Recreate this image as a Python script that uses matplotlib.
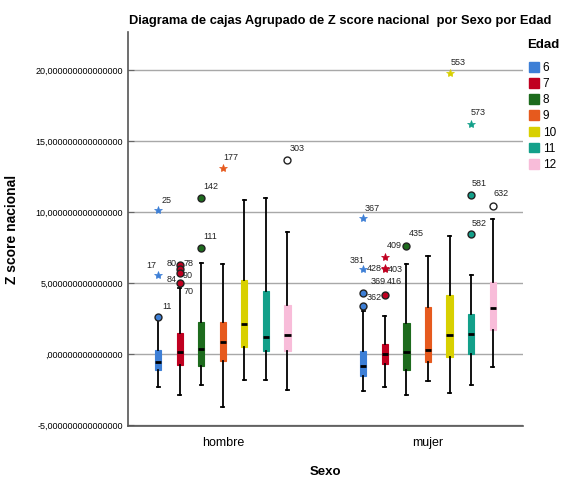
import matplotlib
matplotlib.use("Agg")
import matplotlib.pyplot as plt
from matplotlib.patches import Patch
from matplotlib.ticker import FuncFormatter

plt.rcParams['font.family'] = ['Liberation Sans', 'DejaVu Sans']

# datos
sexos = ['hombre', 'mujer']
edades = ['6', '7', '8', '9', '10', '11', '12']
colores = ['#3d7fd6', '#c00020', '#1d6b1d', '#e65a1e', '#d8d000', '#13a08a', '#f8bcd9']

# hombre
h_whislo = [-2.3, -2.9, -2.19, -3.77, -1.84, -1.84, -2.54]
h_q1 = [-1.13, -0.78, -0.85, -0.47, 0.52, 0.21, 0.21]
h_med = [-0.54, 0.12, 0.35, 0.82, 2.12, 1.18, 1.34]
h_q3 = [0.28, 1.46, 2.28, 2.28, 5.23, 4.47, 3.46]
h_whishi = [2.4, 4.64, 6.4, 6.33, 10.83, 10.97, 8.57]

# mujer
m_whislo = [-2.61, -2.35, -2.9, -1.91, -2.78, -2.19, -0.9]
m_q1 = [-1.53, -0.71, -1.13, -0.59, -0.24, 0.0, 1.69]
m_med = [-0.82, 0.0, 0.12, 0.28, 1.34, 1.39, 3.27]
m_q3 = [0.24, 0.71, 2.16, 3.29, 4.17, 2.82, 5.06]
m_whishi = [3.04, 2.71, 6.33, 6.92, 8.29, 5.58, 9.53]

# atipicos hombre: indice de edad, valor, tipo ('o' atipico, '*' extremo), caso
h_out_edad = [0, 0, 0, 1, 1, 1, 1, 2, 2, 3, 6]
h_out_val = [2.63, 5.58, 10.17, 6.28, 5.98, 5.7, 5.04, 7.46, 11.0, 13.1, 13.65]
h_out_tipo = ['o', '*', '*', 'o', 'o', 'o', 'o', 'o', 'o', '*', 'o']
h_out_caso = [['11'], ['17'], ['25'], ['80'], ['78'], ['84', '90'], ['70'], ['111'], ['142'], ['177'], ['303']]

# atipicos mujer
m_out_edad = [0, 0, 0, 0, 1, 1, 1, 1, 2, 4, 5, 5, 5, 6]
m_out_val = [9.58, 5.98, 4.28, 3.39, 6.87, 6.05, 5.98, 4.17, 7.63, 19.82, 16.22, 11.23, 8.43, 10.47]
m_out_tipo = ['*', '*', 'o', 'o', '*', '*', '*', 'o', 'o', '*', '*', 'o', 'o', 'o']
m_out_caso = [['367'], ['381', '428'], ['362'], [], [], [], ['403'], ['369', '416'], ['409', '435'],
              ['553'], ['573'], ['581'], ['582'], ['632']]

# desplazamiento de etiquetas (puntos)
etiq_off = {'11': (2.9, 7.2), '17': (-8.6, 6.5), '25': (2.2, 6.5), '80': (-9.4, 1.4), '78': (2.9, 4.3),
            '84': (-9.4, -4.3), '90': (2.2, -2.0), '70': (2.9, -6.7), '111': (1.4, 8.6), '142': (1.4, 8.6),
            '177': (0.7, 8.0), '303': (1.4, 8.6), '367': (0.7, 7.2), '381': (-10.0, 6.5), '428': (2.2, 0.7),
            '362': (2.2, -2.9), '369': (-10.0, 9.4), '416': (1.4, 9.4), '403': (2.2, 0.0),
            '409': (-14.4, 0.0), '435': (1.4, 8.6), '553': (0.7, 7.2), '573': (0.0, 8.0), '581': (0.7, 8.0),
            '582': (0.7, 8.0), '632': (0.7, 8.6)}

paso = 0.105
ancho = 0.03

fig = plt.figure(figsize=(5.63, 4.8), dpi=100)
ax = fig.add_axes([0.227, 0.1125, 0.702, 0.8205])

datos = [(h_whislo, h_q1, h_med, h_q3, h_whishi), (m_whislo, m_q1, m_med, m_q3, m_whishi)]
for g, (lo, q1, med, q3, hi) in enumerate(datos):
    for i in range(len(edades)):
        pos = g + (i - 3) * paso
        st = [{'whislo': lo[i], 'q1': q1[i], 'med': med[i], 'q3': q3[i], 'whishi': hi[i], 'fliers': []}]
        ax.bxp(st, positions=[pos], widths=ancho, patch_artist=True, showfliers=False,
               boxprops=dict(facecolor=colores[i], edgecolor=colores[i], linewidth=0.8),
               medianprops=dict(color='black', linewidth=2),
               whiskerprops=dict(color='black', linewidth=1.3),
               capprops=dict(color='black', linewidth=1.3), capwidths=0.015, zorder=3)

atipicos = [(h_out_edad, h_out_val, h_out_tipo, h_out_caso), (m_out_edad, m_out_val, m_out_tipo, m_out_caso)]
for g, (ed, vals, tipos, casos) in enumerate(atipicos):
    for e, v, t, cs in zip(ed, vals, tipos, casos):
        x = g + (e - 3) * paso
        if t == 'o':
            fc = 'white' if e == 6 else colores[e]
            ax.plot(x, v, 'o', ms=5, mfc=fc, mec='#222222', mew=1.0, zorder=4)
        else:
            ax.plot(x, v, '*', ms=6, mfc=colores[e], mec=colores[e], mew=0.5, zorder=4)
        for c in cs:
            ax.annotate(c, (x, v), xytext=etiq_off[c], textcoords='offset points',
                        fontsize=6.5, color='#222222', va='center')

ax.set_xlim(-0.463, 1.463)
ax.set_ylim(-5.08, 22.7)
ax.set_yticks([-5, 0, 5, 10, 15, 20])


def fmt(v, p):
    s = ('%.15f' % v).replace('.', ',')
    return s[1:] if s.startswith('0,') else s


ax.yaxis.set_major_formatter(FuncFormatter(fmt))
ax.set_xticks([0, 1])
ax.set_xticklabels(sexos, fontsize=9)
ax.tick_params(axis='y', direction='in', length=4, labelsize=6.5, color='#666666')
ax.tick_params(axis='x', length=0, pad=8)
ax.grid(axis='y', color='#a8a8a8', linewidth=1)
ax.set_axisbelow(True)
for sp in ['top', 'right']:
    ax.spines[sp].set_visible(False)
for sp in ['left', 'bottom']:
    ax.spines[sp].set_color('#555555')
    ax.spines[sp].set_linewidth(1.2)

ax.set_xlabel('Sexo', fontsize=9.5, fontweight='bold', labelpad=12)
ax.set_ylabel('Z score nacional', fontsize=10, fontweight='bold', labelpad=12)
fig.text(0.605, 0.957, 'Diagrama de cajas Agrupado de Z score nacional  por Sexo por Edad',
         ha='center', va='center', fontsize=9.3, fontweight='bold')

fig.text(0.937, 1 - 45 / 480, 'Edad', ha='left', va='center', fontsize=9.5, fontweight='bold')
handles = [Patch(facecolor=c, edgecolor=c) for c in colores]
fig.legend(handles, edades, loc='upper left', bbox_to_anchor=(0.94, 1 - 62 / 480), frameon=False,
           fontsize=8.5, handlelength=0.85, handleheight=0.9, handletextpad=0.3,
           labelspacing=0.35, borderaxespad=0, borderpad=0)

fig.savefig('out.png', dpi=100)
